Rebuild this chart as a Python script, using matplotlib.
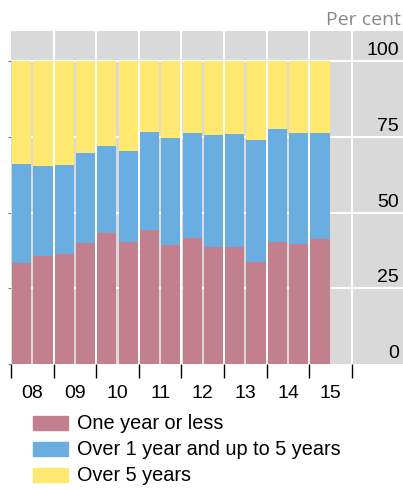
import matplotlib
matplotlib.use("Agg")
import matplotlib.pyplot as plt
from matplotlib.patches import Rectangle
from matplotlib.transforms import blended_transform_factory, offset_copy

plt.rcParams['font.family'] = ['Liberation Sans', 'DejaVu Sans']

years = ['08', '09', '10', '11', '12', '13', '14', '15']
series_names = ['One year or less', 'Over 1 year and up to 5 years', 'Over 5 years']
one_year = [33.2, 35.6, 36.3, 39.9, 43.2, 40.3, 44.3, 39.3, 41.7, 38.6, 38.6, 33.7, 40.3, 39.6, 41.3]
one_to_five = [32.8, 29.7, 29.4, 29.7, 28.7, 30.0, 32.3, 35.3, 34.5, 37.0, 37.3, 40.2, 37.3, 36.6, 34.9]
over_five = [34.0, 34.7, 34.3, 30.4, 28.1, 29.7, 23.4, 25.4, 23.8, 24.4, 24.1, 26.1, 22.4, 23.8, 23.8]
yticks = [0, 25, 50, 75, 100]

colors = ['#C27F8E', '#6AADE0', '#FEE870']
bg = '#D9D9D9'

W, H = 403, 490
fig = plt.figure(figsize=(W / 100, H / 100), dpi=100)
ax = fig.add_axes([11 / W, (H - 364) / H, 392 / W, (364 - 31) / H])
ax.set_facecolor(bg)
for s in ax.spines.values():
    s.set_visible(False)

n = len(one_year)
xs = [i + 0.5 for i in range(n)]
bottom = [0] * n
for vals, c, name in zip([one_year, one_to_five, over_five], colors, series_names):
    ax.bar(xs, vals, width=0.9, bottom=bottom, color=c, label=name, zorder=2)
    bottom = [b + v for b, v in zip(bottom, vals)]

ax.set_xlim(0, 392 / 21.31)
ax.set_ylim(0, 110)

# grid
for y in yticks[1:]:
    ax.axhline(y, color='white', lw=1.5, zorder=1)
for k in range(1, len(years) + 1):
    ax.axvline(2 * k, color='white', lw=1.5, zorder=1)

# x ticks
ax.set_xticks([2 * k for k in range(len(years) + 1)])
ax.set_xticklabels([])
ax.set_xticks([2 * k + 1 for k in range(len(years))], minor=True)
ax.set_xticklabels(years, minor=True, fontsize=14)
ax.tick_params(axis='x', which='major', length=10, width=1, color='black', direction='out', pad=0)
ax.tick_params(axis='x', which='minor', length=0, pad=15)
ax.set_yticks(yticks)
ax.tick_params(axis='y', left=True, right=False, length=2, color='#777777', labelleft=False)

# y labels inside, right aligned above lines
trans = blended_transform_factory(ax.transAxes, ax.transData)
trans = offset_copy(trans, fig=fig, x=-4, y=6, units='dots')
for y in yticks:
    ax.text(1.0, y, str(y), transform=trans, ha='right', va='baseline', fontsize=14, color='black')

fig.text(401 / W, 1 - 25 / H, 'Per cent', ha='right', va='baseline', fontsize=14,
         color='#888888', family=['Open Sans', 'DejaVu Sans'])

# legend
for i, (name, c) in enumerate(zip(series_names, colors)):
    yc = 423 + 26 * i
    fig.patches.append(Rectangle((33 / W, 1 - (yc + 7) / H), 35 / W, 14 / H,
                                 transform=fig.transFigure, color=c))
    fig.text(77 / W, 1 - yc / H, name, ha='left', va='center', fontsize=14.3, color='black')

fig.savefig('out.png', dpi=100)
